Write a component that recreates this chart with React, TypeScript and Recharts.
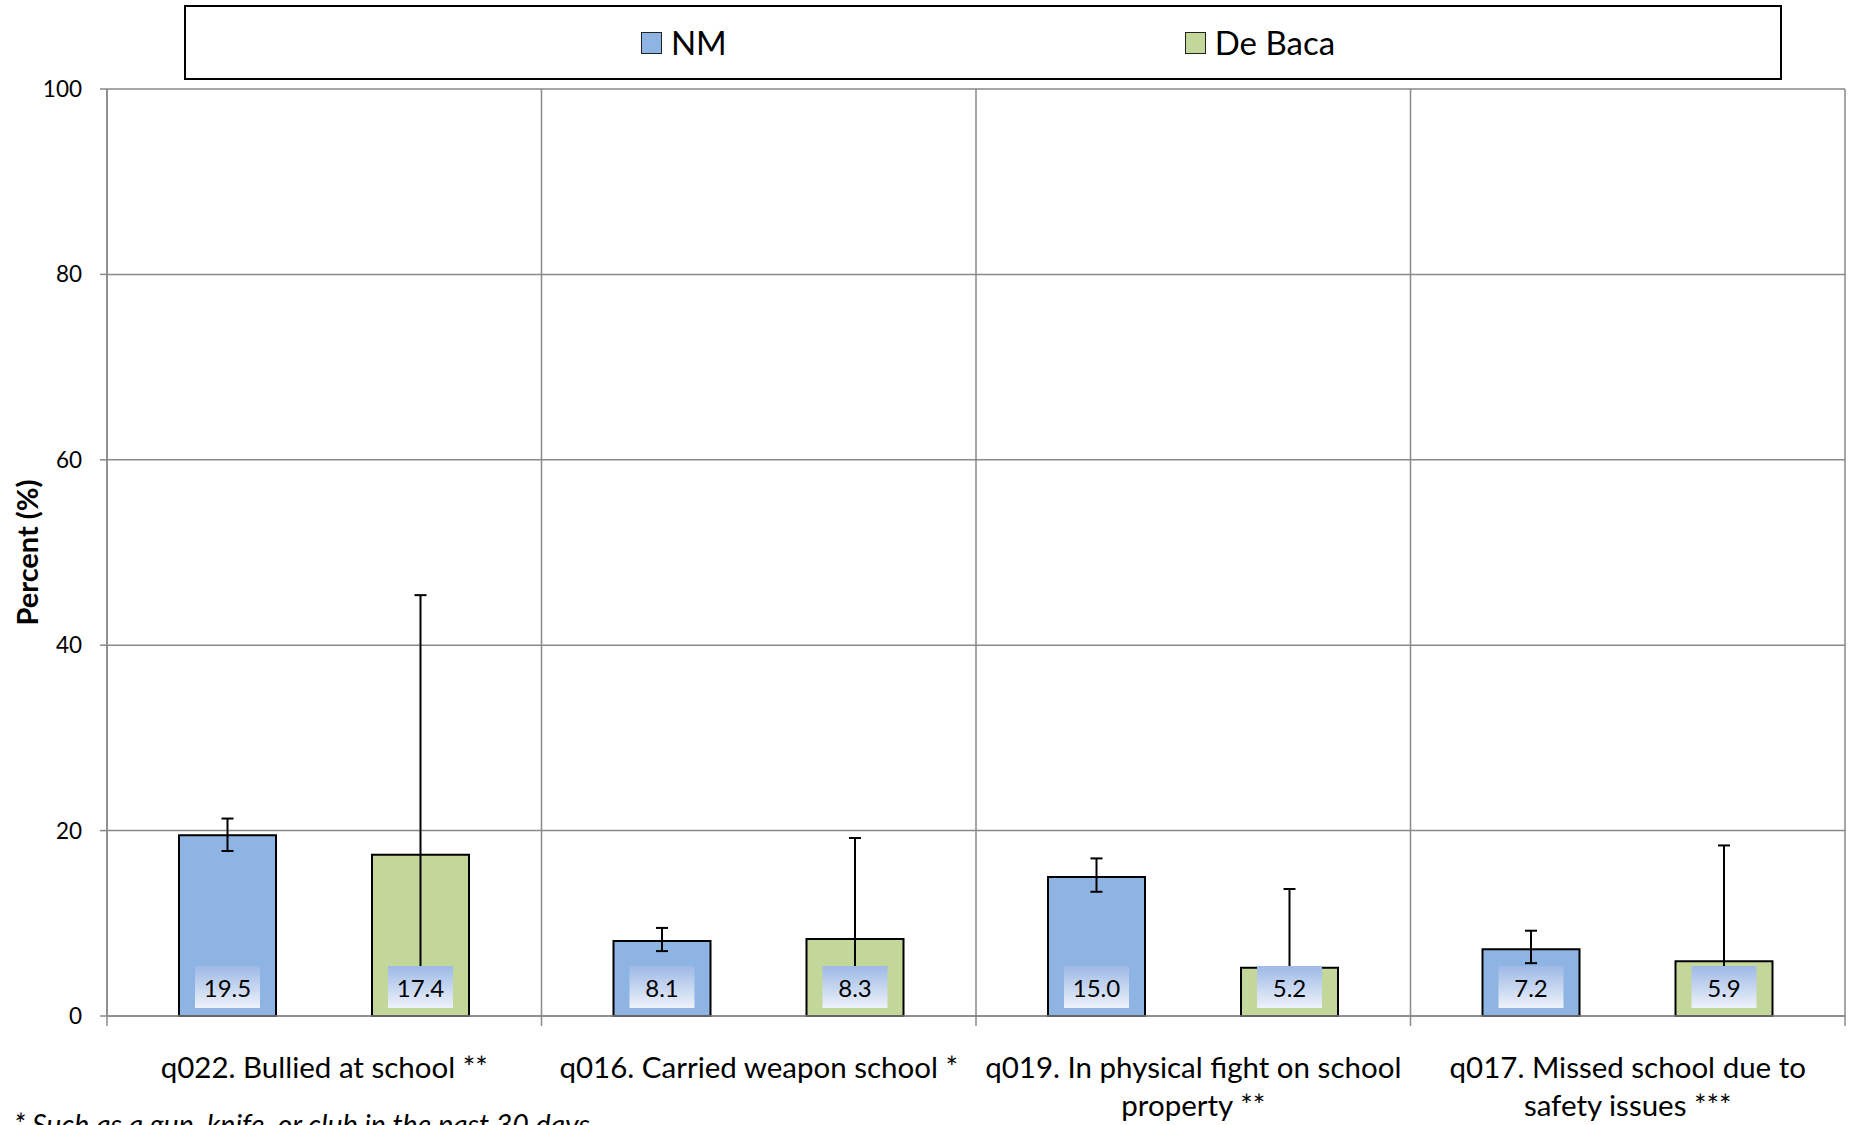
import React from 'react';
import { BarChart, Bar, XAxis, YAxis, CartesianGrid, ErrorBar, LabelList, Legend } from 'recharts';

const categories = [
  'q022. Bullied at school **',
  'q016. Carried weapon school *',
  'q019. In physical fight on school\nproperty **',
  'q017. Missed school due to\nsafety issues ***',
];
const seriesNames = ['NM', 'De Baca'];
const nmValues = [19.5, 8.1, 15.0, 7.2];
const nmLower = [17.8, 7.0, 13.4, 5.7];
const nmUpper = [21.3, 9.5, 17.0, 9.2];
const deBacaValues = [17.4, 8.3, 5.2, 5.9];
const deBacaLower = [4.0, 1.5, 1.3, 1.3];
const deBacaUpper = [45.4, 19.2, 13.7, 18.4];
const yTicks = [0, 20, 40, 60, 80, 100];
const yAxisTitle = 'Percent (%)';
const footnote = '* Such as a gun, knife, or club in the past 30 days';

const colors = { nm: '#8EB4E3', deBaca: '#C4D79B', grid: '#898989' };
const FONT = 'Lato, "Open Sans", sans-serif';

const data = categories.map((c, i) => ({
  category: c,
  nm: nmValues[i],
  nmErr: [nmValues[i] - nmLower[i], nmUpper[i] - nmValues[i]],
  deBaca: deBacaValues[i],
  deBacaErr: [deBacaValues[i] - deBacaLower[i], deBacaUpper[i] - deBacaValues[i]],
}));

const XTick = (props: any) => {
  const { x, y, payload, width, visibleTicksCount, index } = props;
  const count = visibleTicksCount || categories.length;
  const half = payload && payload.offset ? payload.offset : width / count / 2;
  const lines = String(payload.value).split('\n');
  const isLast = index === count - 1;
  return (
    <g>
      <line x1={x - half} y1={y} x2={x - half} y2={y + 10} stroke={colors.grid} strokeWidth={1.5} />
      {isLast && <line x1={x + half} y1={y} x2={x + half} y2={y + 10} stroke={colors.grid} strokeWidth={1.5} />}
      <text x={x} y={y + 62} textAnchor="middle" fontFamily={FONT} fontSize={29.5} fill="#000">
        {lines.map((l, i) => (
          <tspan key={i} x={x} dy={i === 0 ? 0 : 38}>{l}</tspan>
        ))}
      </text>
    </g>
  );
};

const makeValueLabel = (prefix: string) => (props: any) => {
  const { x, y, width, height, value, index } = props;
  const bw = 65;
  const bh = 42;
  const cx = x + width / 2;
  const bottom = y + height - 8;
  const id = `grad-${prefix}-${index}`;
  return (
    <g>
      <defs>
        <linearGradient id={id} x1="0" y1="0" x2="0" y2="1">
          <stop offset="0%" stopColor="#9DB9E6" />
          <stop offset="100%" stopColor="#EEF2FA" />
        </linearGradient>
      </defs>
      <rect x={cx - bw / 2} y={bottom - bh} width={bw} height={bh} fill={`url(#${id})`} />
      <text x={cx} y={bottom - bh / 2} textAnchor="middle" dominantBaseline="central" fontFamily={FONT} fontSize={24} fill="#000">
        {Number(value).toFixed(1)}
      </text>
    </g>
  );
};

const renderLegend = () => {
  const items = [
    { name: seriesNames[0], color: colors.nm },
    { name: seriesNames[1], color: colors.deBaca },
  ];
  return (
    <div
      style={{
        boxSizing: 'border-box',
        width: 1598,
        height: 75,
        border: '2px solid #000',
        background: '#fff',
        display: 'flex',
        alignItems: 'center',
        justifyContent: 'center',
        gap: 458,
        paddingLeft: 10,
        fontFamily: FONT,
        fontSize: 33,
        color: '#000',
      }}
    >
      {items.map((it) => (
        <div key={it.name} style={{ display: 'flex', alignItems: 'center' }}>
          <span
            style={{
              display: 'inline-block',
              boxSizing: 'border-box',
              width: 21,
              height: 22,
              background: it.color,
              border: '1.5px solid #222',
              marginRight: 9,
            }}
          />
          <span style={{ lineHeight: '33px' }}>{it.name}</span>
        </div>
      ))}
    </div>
  );
};

const YTitle = (props: any) => {
  const vb = props.viewBox || { y: 89, height: 927 };
  const cx = 26;
  const cy = vb.y + vb.height / 2;
  return (
    <text x={cx} y={cy} transform={`rotate(-90 ${cx} ${cy})`} textAnchor="middle" dominantBaseline="central" fontFamily={FONT} fontWeight="bold" fontSize={29} fill="#000">
      {yAxisTitle}
    </text>
  );
};

export default function App() {
  return (
    <div style={{ position: 'absolute', left: 0, top: 0, width: 1851, height: 1125, overflow: 'hidden', background: '#fff' }}>
      <BarChart
        width={1851}
        height={1125}
        data={data}
        margin={{ top: 14, right: 6, bottom: 0, left: 0 }}
        barCategoryGap={72}
        barGap={96}
      >
        <Legend verticalAlign="top" align="left" wrapperStyle={{ top: 5, left: 184, width: 1598 }} content={renderLegend} />
        <CartesianGrid
          stroke={colors.grid}
          strokeWidth={1.5}
          vertical
          horizontal
          verticalCoordinatesGenerator={({ offset }: any) =>
            categories.concat(['']).map((_, i) => offset.left + (offset.width * i) / categories.length)
          }
        />
        <XAxis
          dataKey="category"
          height={109}
          interval={0}
          tickLine={false}
          tickSize={0}
          tickMargin={0}
          axisLine={{ stroke: colors.grid, strokeWidth: 1.5 }}
          tick={<XTick />}
        />
        <YAxis
          width={107}
          domain={[0, 100]}
          ticks={yTicks}
          tickSize={7}
          tickMargin={18}
          axisLine={{ stroke: colors.grid, strokeWidth: 1.5 }}
          tickLine={{ stroke: colors.grid, strokeWidth: 1.5 }}
          tick={{ fontFamily: FONT, fontSize: 22.5, fill: '#000' }}
          label={{ content: YTitle }}
        />
        <Bar dataKey="nm" name={seriesNames[0]} fill={colors.nm} stroke="#000" strokeWidth={2} isAnimationActive={false}>
          <ErrorBar dataKey="nmErr" width={6} strokeWidth={2} stroke="#000" direction="y" />
          <LabelList dataKey="nm" content={makeValueLabel('nm')} />
        </Bar>
        <Bar dataKey="deBaca" name={seriesNames[1]} fill={colors.deBaca} stroke="#000" strokeWidth={2} isAnimationActive={false}>
          <ErrorBar dataKey="deBacaErr" width={6} strokeWidth={2} stroke="#000" direction="y" />
          <LabelList dataKey="deBaca" content={makeValueLabel('db')} />
        </Bar>
      </BarChart>
      <div
        style={{
          position: 'absolute',
          left: 14,
          top: 1110,
          fontFamily: FONT,
          fontStyle: 'italic',
          fontSize: 28.5,
          lineHeight: '28.5px',
          color: '#000',
          whiteSpace: 'nowrap',
        }}
      >
        {footnote}
      </div>
    </div>
  );
}
